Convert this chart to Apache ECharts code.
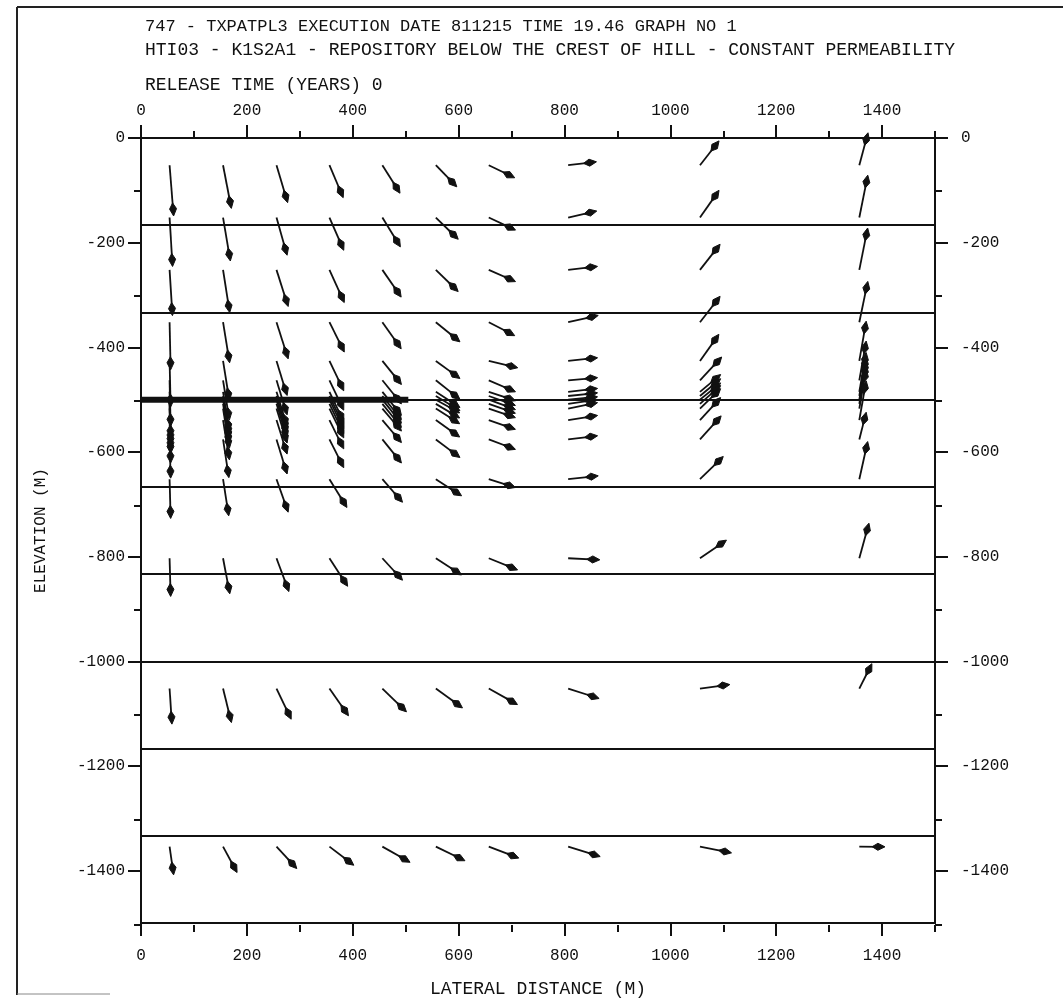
<!DOCTYPE html>
<html>
<head>
<meta charset="utf-8">
<title>Flow field - repository below the crest of hill</title>
<script src="https://cdn.jsdelivr.net/npm/echarts@6/dist/echarts.min.js"></script>
<style>
html, body { margin: 0; padding: 0; background: #fff; }
#main { width: 1063px; height: 1003px; }
</style>
</head>
<body>
<div id="main"></div>
<script>
// tick labels
var xMajor = [0, 200, 400, 600, 800, 1000, 1200, 1400];
var xMinor = [100, 300, 500, 700, 900, 1100, 1300, 1500];
var yMajor = [0, -200, -400, -600, -800, -1000, -1200, -1400];
var yMinor = [-100, -300, -500, -700, -900, -1100, -1300, -1500];

// layer boundaries and the repository
var layerDepths = [-166.7, -333.3, -500, -666.7, -833.3, -1000, -1166.7, -1333.3];
var repository = [[0, -500], [505, -500]];

// arrow tails: one column position per vertical, one elevation per row
var colX = [54, 155, 256, 356, 456, 557, 657, 807, 1056, 1357];
var rowY = [-52, -152, -252, -352, -426, -463, -485, -493, -500, -508, -517, -539, -576, -652, -803, -1052, -1354];

// flow vectors [dx, dy] (drawn length, in metres) per column, one per row
var col1 = [[7.6,-97],[5.6,-93.5],[5.4,-87.4],[2,-91],[2,-88],[2,-88],[2,-88],[2,-88],[2,-88],[2,-88],[2,-86],[2,-82],[2,-74],[2,-75],[2,-73],[4.4,-68],[7.6,-54]];
var col2 = [[15.7,-82.5],[13.8,-83],[12.6,-81.6],[12.4,-77.5],[12,-76],[12,-76],[12,-76],[12,-76],[12,-76],[12,-76],[12,-76],[12,-76],[11,-73],[10.7,-70],[12.7,-68],[15.8,-65],[26.5,-49.5]];
var col3 = [[21,-71.5],[20,-72],[22,-70],[22,-70],[20,-66],[20,-66],[20,-66],[20,-66],[20,-66],[20,-66],[20,-66],[20,-65],[20,-66],[22,-63],[23.4,-63.7],[27.7,-58.6],[38.3,-42]];
var col4 = [[26,-62],[27,-62.5],[28,-62.4],[28,-57],[27,-57],[27,-57],[27,-57],[27,-57],[27,-57],[27,-57],[27,-56],[27,-55],[27,-54],[33,-54],[34.4,-53.6],[36,-52],[46,-35.6]];
var col5 = [[33.3,-53.5],[34,-56],[35.5,-52],[35.5,-50.8],[36,-45],[36,-45],[36,-45],[36,-45],[36,-45],[36,-45],[36,-43],[36,-43],[36,-45],[38,-44],[38,-42],[45.5,-44.5],[52.3,-30]];
var col6 = [[39.6,-41.3],[42.3,-41.5],[42.2,-41.4],[45.5,-37.5],[45.5,-33.5],[45.5,-36.4],[45.5,-30],[45.5,-28],[45,-25.4],[45,-27],[45,-29],[45,-32.4],[45.5,-34.5],[48.6,-31.7],[48.6,-32],[50.3,-37],[55,-27]];
var col7 = [[49,-24],[50.5,-24],[50.5,-22.4],[49,-25.7],[54.7,-13],[50.4,-22],[50.4,-17],[50.4,-18],[50.4,-19],[50.4,-18],[50.4,-17.3],[50.4,-17.7],[50.4,-19],[50.4,-15.8],[54.4,-22.3],[54.2,-30.6],[56.7,-22]];
var col8 = [[53.4,6.5],[54,12.4],[55.4,6.6],[56.8,13],[55.5,6],[55.5,5],[55.5,6.4],[55.5,6],[55.5,5.4],[55.5,8],[55.5,11.3],[55.5,8.8],[55.5,7],[56.8,6.4],[59.8,-3],[58.5,-19],[60.5,-19]];
var col9 = [[36,46.5],[36,52],[38,49],[38,49.5],[35.7,50.8],[41,44.5],[39,33],[39,33],[39,32],[39,35],[39,38],[39,43],[40,45],[44,43.4],[50,34.6],[56.4,7.6],[59.6,-12]];
var col10 = [[16.4,62],[16,81],[15.8,80],[16,78],[13,76],[13,75],[13,75],[13,75],[13,75],[13,75],[13,75],[13,75],[13,52],[15.8,72],[18.2,67],[23.8,47.5],[48.4,-0.5]];

var columns = [col1, col2, col3, col4, col5, col6, col7, col8, col9, col10];
var arrows = [];
columns.forEach(function (col, c) {
    col.forEach(function (vec, r) {
        arrows.push([colX[c], rowY[r], vec[0], vec[1]]);
    });
});

var FONT = '"Liberation Mono", "DejaVu Sans Mono", monospace';
var INK = '#111';

function plain(v) { return String(v); }

function xAxisOf(grid, pos, ticks, len, labels, margin) {
    return {
        type: 'value', gridIndex: grid, position: pos, min: 0, max: 1500,
        axisLine: { show: grid === 0, onZero: false, lineStyle: { color: INK, width: 2 } },
        axisTick: { show: true, customValues: ticks, length: len, lineStyle: { color: INK, width: 2 } },
        axisLabel: { show: labels, customValues: ticks, margin: margin, color: INK,
                     fontFamily: FONT, fontSize: 16, formatter: plain },
        splitLine: { show: false }
    };
}
function yAxisOf(grid, pos, ticks, len, labels, margin) {
    return {
        type: 'value', gridIndex: grid, position: pos, min: -1500, max: 0,
        axisLine: { show: grid === 0, onZero: false, lineStyle: { color: INK, width: 2 } },
        axisTick: { show: true, customValues: ticks, length: len, lineStyle: { color: INK, width: 2 } },
        axisLabel: { show: labels, customValues: ticks, margin: margin, color: INK,
                     fontFamily: FONT, fontSize: 16, formatter: plain },
        splitLine: { show: false }
    };
}

var xBottom = xAxisOf(0, 'bottom', xMajor, 13, true, 25);
xBottom.name = 'LATERAL DISTANCE (M)';
xBottom.nameLocation = 'middle';
xBottom.nameGap = 57;
xBottom.nameTextStyle = { color: INK, fontFamily: FONT, fontSize: 18 };

var yLeft = yAxisOf(0, 'left', yMajor, 13, true, 16);
yLeft.name = 'ELEVATION (M)';
yLeft.nameLocation = 'middle';
yLeft.nameRotate = 90;
yLeft.nameGap = 92;
yLeft.nameTextStyle = { color: INK, fontFamily: FONT, fontSize: 16 };

var titleSizes = [17, 18, 18];

var myChart = echarts.init(document.getElementById('main'));
myChart.setOption({
    animation: false,
    backgroundColor: '#fff',
    title: [
        { text: '747 - TXPATPL3 EXECUTION DATE 811215 TIME 19.46 GRAPH NO 1', left: 145, top: 18 },
        { text: 'HTI03 - K1S2A1 - REPOSITORY BELOW THE CREST OF HILL - CONSTANT PERMEABILITY', left: 145, top: 41 },
        { text: 'RELEASE TIME (YEARS) 0', left: 145, top: 76 }
    ].map(function (t, i) {
        t.textStyle = { color: INK, fontFamily: FONT, fontSize: titleSizes[i], fontWeight: 'normal' };
        t.padding = 0;
        return t;
    }),
    graphic: [
        { type: 'line', shape: { x1: 17, y1: 7, x2: 1063, y2: 7 }, style: { stroke: '#222', lineWidth: 2 } },
        { type: 'line', shape: { x1: 17, y1: 7, x2: 17, y2: 995 }, style: { stroke: '#222', lineWidth: 2 } },
        { type: 'line', shape: { x1: 17, y1: 994, x2: 110, y2: 994 }, style: { stroke: '#888', lineWidth: 1 } }
    ],
    grid: [
        { left: 141, top: 138, width: 794, height: 787 },
        { left: 141, top: 138, width: 794, height: 787 }
    ],
    xAxis: [
        xBottom,
        xAxisOf(0, 'top', xMajor, 13, true, 19),
        xAxisOf(1, 'bottom', xMinor, 7, false, 0),
        xAxisOf(1, 'top', xMinor, 7, false, 0)
    ],
    yAxis: [
        yLeft,
        yAxisOf(0, 'right', yMajor, 13, true, 26),
        yAxisOf(1, 'left', yMinor, 7, false, 0),
        yAxisOf(1, 'right', yMinor, 7, false, 0)
    ],
    series: [
        {
            type: 'line',
            xAxisIndex: 0,
            yAxisIndex: 0,
            data: repository,
            symbol: 'none',
            lineStyle: { color: INK, width: 6 },
            markLine: {
                silent: true,
                symbol: 'none',
                label: { show: false },
                lineStyle: { color: INK, width: 2, type: 'solid' },
                data: layerDepths.map(function (d) { return { yAxis: d }; })
            }
        },
        {
            type: 'custom',
            xAxisIndex: 0,
            yAxisIndex: 0,
            clip: false,
            data: arrows,
            encode: { x: 0, y: 1 },
            renderItem: function (params, api) {
                var p0 = api.coord([api.value(0), api.value(1)]);
                var p1 = api.coord([api.value(0) + api.value(2), api.value(1) + api.value(3)]);
                var dx = p1[0] - p0[0], dy = p1[1] - p0[1];
                var len = Math.sqrt(dx * dx + dy * dy) || 1;
                var ux = dx / len, uy = dy / len;
                var nx = -uy, ny = ux;
                var hl = Math.min(13, len * 0.5), hw = 3.5;
                var sx = p1[0] - ux * hl * 0.55, sy = p1[1] - uy * hl * 0.55;
                return {
                    type: 'group',
                    children: [
                        {
                            type: 'line',
                            shape: { x1: p0[0], y1: p0[1], x2: p1[0] - ux * 4, y2: p1[1] - uy * 4 },
                            style: { stroke: INK, lineWidth: 1.8 }
                        },
                        {
                            type: 'polygon',
                            shape: { points: [
                                [p1[0], p1[1]],
                                [sx + nx * hw, sy + ny * hw],
                                [p1[0] - ux * hl, p1[1] - uy * hl],
                                [sx - nx * hw, sy - ny * hw]
                            ] },
                            style: { fill: INK, stroke: INK, lineWidth: 1, lineJoin: 'round' }
                        }
                    ]
                };
            }
        }
    ]
});
</script>
</body>
</html>
